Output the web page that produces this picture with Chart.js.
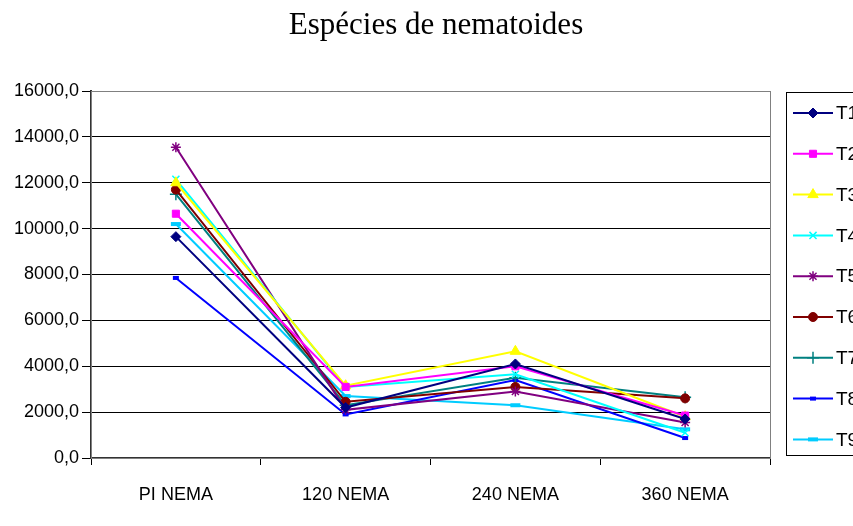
<!DOCTYPE html>
<html>
<head>
<meta charset="utf-8">
<script src="https://cdn.jsdelivr.net/npm/chart.js@4/dist/chart.umd.min.js"></script>
<style>
  html, body { margin: 0; padding: 0; background: #fff; overflow: hidden; }
  #wrap { width: 853px; height: 526px; }
</style>
</head>
<body>
<div id="wrap"><canvas id="chart" width="853" height="526"></canvas></div>
<script>
const title = 'Espécies de nematoides'
const categories = ['PI NEMA', '120 NEMA', '240 NEMA', '360 NEMA']
const seriesNames = ['T1', 'T2', 'T3', 'T4', 'T5', 'T6', 'T7', 'T8', 'T9']
const t1 = [9650, 2200, 4100, 1700]
const t2 = [10650, 3100, 4000, 1850]
const t3 = [12000, 3150, 4650, 1800]
const t4 = [12150, 3100, 3650, 1100]
const t5 = [13550, 2100, 2900, 1550]
const t6 = [11700, 2450, 3100, 2600]
const t7 = [11500, 2300, 3500, 2650]
const t8 = [7850, 1900, 3400, 870]
const t9 = [10200, 2700, 2300, 1250]
const yTicks = [0, 2000, 4000, 6000, 8000, 10000, 12000, 14000, 16000]

const seriesData = [t1, t2, t3, t4, t5, t6, t7, t8, t9]
const colors = ['#000080', '#FF00FF', '#FFFF00', '#00FFFF', '#800080', '#800000', '#008080', '#0000FF', '#00CCFF']
const markers = [
  { style: 'rectRot', r: 5, bw: 1 },
  { style: 'rect', r: 5, bw: 1 },
  { style: 'triangle', r: 6, bw: 1 },
  { style: 'crossRot', r: 5, bw: 1.5 },
  { style: 'star', r: 5, bw: 1.5 },
  { style: 'circle', r: 4.5, bw: 1 },
  { style: 'cross', r: 6, bw: 1.5 },
  { style: 'line', r: 3, bw: 4 },
  { style: 'line', r: 5, bw: 4 },
]

const axisFont = { family: '"Liberation Sans", Arial, sans-serif', size: 18 }

// frame, title and the boxed legend on the right
const decor = {
  id: 'decor',
  beforeDatasetsDraw(chart) {
    const { ctx, chartArea: a } = chart
    ctx.save()
    ctx.strokeStyle = '#808080'
    ctx.lineWidth = 1
    ctx.strokeRect(a.left + 0.5, a.top + 0.5, a.right - a.left, a.bottom - a.top)
    ctx.restore()
  },
  afterDraw(chart) {
    const ctx = chart.ctx
    ctx.save()
    ctx.fillStyle = '#000'
    ctx.font = '31px "Liberation Serif", "Times New Roman", serif'
    ctx.textAlign = 'center'
    ctx.textBaseline = 'alphabetic'
    ctx.fillText(title, 436, 34)

    ctx.strokeStyle = '#000'
    ctx.lineWidth = 1
    ctx.strokeRect(786.5, 92.5, 80, 363)

    chart.data.datasets.forEach((ds, i) => {
      const y = 113 + i * 40.8
      ctx.strokeStyle = ds.borderColor
      ctx.lineWidth = 2
      ctx.beginPath()
      ctx.moveTo(793, y)
      ctx.lineTo(833, y)
      ctx.stroke()
      ctx.fillStyle = ds.backgroundColor
      ctx.strokeStyle = ds.borderColor
      ctx.lineWidth = ds.pointBorderWidth
      Chart.helpers.drawPoint(ctx, { pointStyle: ds.pointStyle, radius: ds.pointRadius, rotation: 0, borderWidth: ds.pointBorderWidth }, 813, y)
      ctx.fillStyle = '#000'
      ctx.font = '19px "Liberation Sans", Arial, sans-serif'
      ctx.textAlign = 'left'
      ctx.textBaseline = 'middle'
      ctx.fillText(ds.label, 836, y + 1)
    })
    ctx.restore()
  }
}

new Chart(document.getElementById('chart'), {
  type: 'line',
  data: {
    labels: categories,
    datasets: seriesNames.map((name, i) => ({
      label: name,
      data: seriesData[i],
      borderColor: colors[i],
      backgroundColor: colors[i],
      borderWidth: 2,
      tension: 0,
      pointStyle: markers[i].style,
      pointRadius: markers[i].r,
      pointBorderWidth: markers[i].bw,
      pointBackgroundColor: colors[i],
      pointBorderColor: colors[i],
    }))
  },
  options: {
    responsive: false,
    animation: false,
    layout: { padding: { left: 0, right: 83, top: 91, bottom: 0 } },
    plugins: {
      legend: { display: false },
      title: { display: false },
      tooltip: { enabled: false }
    },
    scales: {
      x: {
        offset: true,
        grid: { offset: true, drawOnChartArea: false, drawTicks: true, tickLength: 7, color: '#000' },
        border: { color: '#333', width: 2 },
        ticks: { color: '#000', font: axisFont, padding: 19 },
        afterFit(s) { s.height = 68 }
      },
      y: {
        min: 0,
        max: 16000,
        afterBuildTicks(s) { s.ticks = yTicks.map((v) => ({ value: v })) },
        grid: { color: '#000', lineWidth: 1, tickLength: 9 },
        border: { color: '#333', width: 2 },
        ticks: {
          color: '#000',
          font: axisFont,
          padding: 3,
          callback: (v) => v.toFixed(1).replace('.', ',')
        },
        afterFit(s) { s.width = 91 }
      }
    }
  },
  plugins: [decor]
})
</script>
</body>
</html>
